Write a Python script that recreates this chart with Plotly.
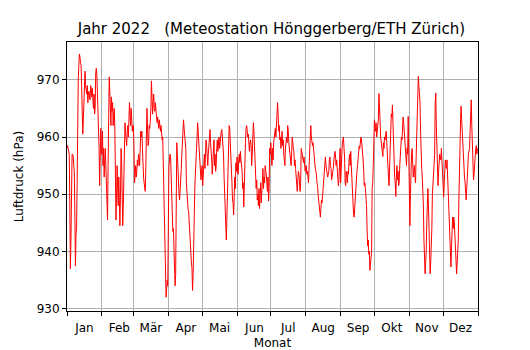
import pandas as pd
import plotly.graph_objects as go

YEAR = 2022

# Air pressure readings (hPa), two per day (00:00 and 12:00), one list per month
p_jan = [958, 958.5, 958, 957, 957, 948, 937, 942, 952, 957, 957, 956.5, 955, 954, 946, 937.5,
         943, 944, 952, 965, 970, 972.5, 974.5, 974, 973, 972.5, 969, 965, 960.5, 963, 966, 970,
         971.5, 969, 968, 967.5, 969, 966, 967.5, 968, 967, 966.5, 969, 968.5, 967, 968.5, 966.5, 965,
         967.5, 964, 965, 971, 972, 971, 968, 967, 965, 958, 951.5, 955, 961.5, 957]
p_feb = [957, 961, 955, 958, 953, 956, 958, 955, 952, 949, 945.5, 955, 966, 970.5, 968, 965,
         962, 967, 964.5, 966, 962, 964, 965, 961, 950, 945.5, 950, 955, 951, 948, 953, 946,
         944.5, 950, 958, 956, 950, 944.5, 948, 954, 959, 962.5, 961, 959, 958.5, 961, 962, 960,
         964, 966, 964, 962, 965, 963, 961, 962]
p_mar = [962, 958, 952, 953.5, 955, 953, 954, 956, 955, 957, 956.5, 955, 959, 961, 960, 961,
         958, 954, 953, 952, 951, 950.5, 955, 960, 965, 962, 958.5, 959, 962, 961.5, 963, 965,
         969.8, 968, 964, 966, 967.5, 965, 964.5, 966, 964, 963, 962.5, 963.5, 962, 961.5, 963, 962,
         961, 962, 960.5, 959.5, 960, 955, 948, 942, 938, 936, 932, 933.5, 935, 934]
p_apr = [948, 955, 956, 957, 956.5, 952, 949, 947, 943.5, 944, 941, 938, 934, 936, 955, 959,
         957, 954, 952, 950, 949, 950.5, 953, 954.5, 957, 959, 961, 963, 961.5, 960, 959, 958,
         952, 950, 948.5, 947.5, 947, 945, 942, 940.5, 939, 938, 937, 933.2, 936, 943, 948.4, 951,
         953.5, 955, 957.8, 960, 962.5, 961, 958, 957, 955, 953, 952.5, 954]
p_may = [955, 951.5, 953, 955, 957, 954.5, 958, 959.5, 958.5, 956, 955, 957, 959, 960, 961.3, 959,
         958, 956, 953.5, 957, 958.5, 959.5, 955, 957, 954, 955, 958, 959.5, 957.5, 959, 960, 958,
         959.5, 960.5, 961, 961.3, 960, 958, 957, 953, 950, 948, 945.5, 942, 946, 951, 955, 960,
         962, 961.5, 959.5, 958, 954, 952, 949, 948.5, 946.4, 950, 953, 951, 955.5, 954]
p_jun = [956.5, 954, 953.5, 956, 957, 955.5, 957.5, 956, 955, 954, 951, 952, 947.8, 953, 957, 959,
         961.5, 962, 961.2, 960, 960.5, 958, 957.5, 959, 959.5, 958.5, 955, 957, 960, 962.5, 961, 959,
         956, 953, 951, 952.5, 949, 950, 948, 951, 947.5, 949, 952, 948.5, 950, 953, 954.5, 951,
         953, 952, 955, 954, 953.5, 952, 950.5, 953, 948.8, 951, 958, 957]
p_jul = [959, 957, 955, 958, 956, 959, 960, 961, 961.5, 960, 962.5, 963, 966, 964, 961, 962,
         959.5, 960, 958, 959, 961, 958.5, 959.5, 957, 956, 955, 958, 959.5, 960, 959, 962, 961,
         959, 958, 957.5, 956, 955, 957, 960, 959, 958, 957.5, 955, 956, 954.5, 953.5, 952, 950.5,
         952.5, 954, 953.5, 952, 950.5, 952, 958, 957.5, 957, 956, 955.5, 956.5, 955, 954]
p_aug = [954.5, 955, 953.5, 954, 953, 952, 955, 959, 961.5, 962, 960, 959.5, 958.5, 959, 957.5, 956,
         955, 954.5, 954, 953.5, 952, 951.5, 950, 949, 948, 947, 946, 947.5, 949, 948.5, 950, 951,
         953, 954, 955.5, 956.5, 955, 954.5, 954, 953, 953.5, 954, 956, 956.5, 955, 954.5, 952.5, 953,
         953.5, 954.5, 956, 957, 957.5, 956.5, 955, 956, 954.5, 953.5, 951.5, 952.5, 955, 958]
p_sep = [952, 956, 958, 959, 959.5, 960, 958, 956.5, 952, 951.5, 954, 953, 952, 954, 953.5, 956,
         957, 955, 957.5, 955, 952, 950, 948, 946.5, 946, 948, 949.5, 951, 953, 954, 955, 956.8,
         957, 958.4, 958, 959, 960, 959.5, 958.5, 958, 956, 954, 951.5, 952, 951, 950, 948, 944,
         941, 942, 939.5, 940, 936.7, 938, 939, 940, 951, 952, 955, 958]
p_oct = [963, 962, 961, 962.5, 960, 961, 962, 963, 967.6, 966, 963, 960, 959, 958.5, 957.5, 956.6,
         959, 958, 960, 959.5, 960.5, 961, 959, 956, 955, 953, 951.5, 954, 958, 960, 964, 963.5,
         965.6, 962, 958, 956, 953, 952, 949.6, 953, 955, 952.5, 954, 951.5, 952, 955, 957, 958,
         960, 959.5, 962, 963.5, 962.5, 961, 958.5, 957, 956, 955, 958, 957, 963.6, 955]
p_nov = [948, 944.5, 950, 955, 957, 958, 956, 953, 954, 955, 953, 952, 956, 960, 965.4, 969,
         970.6, 969, 968, 966, 961, 956, 954.5, 953, 951, 948, 942, 940, 936.1, 938, 940, 945,
         949, 951, 948, 944, 940, 936.1, 938, 940, 944, 950, 952, 955, 955.5, 957, 966, 967.7,
         962, 956, 952, 951.5, 954, 955, 957, 956.5, 956, 958]
p_dec = [951, 949.5, 952, 954, 956, 955, 954.5, 956, 953, 951, 948.5, 946, 941, 939.5, 937.3, 941,
         945.5, 946, 944, 946, 945, 943, 941, 939, 936.1, 938, 940.5, 942, 949, 952, 958, 963,
         965.4, 963, 961, 957, 955, 954.5, 953, 952, 950, 949, 951, 953.5, 955, 957, 957.5, 958,
         961, 963, 966.5, 962, 958, 955, 952.5, 953.5, 956, 957, 958, 958.5, 957, 958]

month_labels = ["Jan", "Feb", "Mär", "Apr", "Mai", "Jun", "Jul", "Aug", "Sep", "Okt", "Nov", "Dez"]
y_ticks = [930, 940, 950, 960, 970]

monthly = [p_jan, p_feb, p_mar, p_apr, p_may, p_jun, p_jul, p_aug, p_sep, p_oct, p_nov, p_dec]

times, values = [], []
for m, vals in enumerate(monthly, start=1):
    idx = pd.date_range(f"{YEAR}-{m:02d}-01", periods=len(vals), freq="12h")
    times.extend(idx)
    values.extend(vals)

# major ticks on the first of each month, month names mid-month
month_starts = pd.date_range(f"{YEAR}-01-01", periods=13, freq="MS")
label_pos = [d + pd.Timedelta(days=15.5) for d in month_starts[:12]]
x_range = [month_starts[0], month_starts[-1]]

font = dict(family="DejaVu Sans", size=12, color="black")
grid = "#b0b0b0"

fig = go.Figure()
fig.add_trace(go.Scatter(
    x=times, y=values, mode="lines",
    line=dict(color="#ff0000", width=1),
    showlegend=False, hoverinfo="skip",
))
# empty trace that carries the month-name axis
fig.add_trace(go.Scatter(x=[label_pos[0]], y=[950], xaxis="x2", mode="markers",
                         marker=dict(opacity=0), showlegend=False, hoverinfo="skip"))

fig.update_layout(
    width=530, height=350,
    margin=dict(l=67, r=52.3, t=42, b=39),
    paper_bgcolor="white", plot_bgcolor="white",
    font=font,
    title=dict(text="Jahr 2022   (Meteostation Hönggerberg/ETH Zürich)",
               x=0.512, xanchor="center", y=1 - 28.5 / 350, yanchor="middle",
               yref="container", font=dict(family="DejaVu Sans", size=15, color="black")),
    xaxis=dict(
        type="date", range=x_range, automargin=False,
        tickvals=list(month_starts), showticklabels=False,
        ticks="outside", ticklen=4, tickwidth=1, tickcolor="black",
        showgrid=True, gridcolor=grid, gridwidth=1,
        showline=True, linecolor="black", linewidth=1, mirror=True,
        zeroline=False,
    ),
    xaxis2=dict(
        type="date", range=x_range, overlaying="x", side="bottom", anchor="y",
        automargin=False,
        tickvals=label_pos, ticktext=month_labels,
        ticks="outside", ticklen=5.5, tickcolor="rgba(0,0,0,0)",
        showgrid=False, showline=False, zeroline=False,
        tickfont=font,
        title=dict(text="Monat", font=font, standoff=5),
    ),
    yaxis=dict(
        range=[929.6, 976.6], automargin=False,
        tickvals=y_ticks,
        ticks="outside", ticklen=4, tickwidth=1, tickcolor="black",
        showgrid=True, gridcolor=grid, gridwidth=1,
        showline=True, linecolor="black", linewidth=1, mirror=True,
        zeroline=False, tickfont=font,
        title=dict(text="Luftdruck (hPa)", font=font, standoff=10),
    ),
)

fig.write_html("out.html")
